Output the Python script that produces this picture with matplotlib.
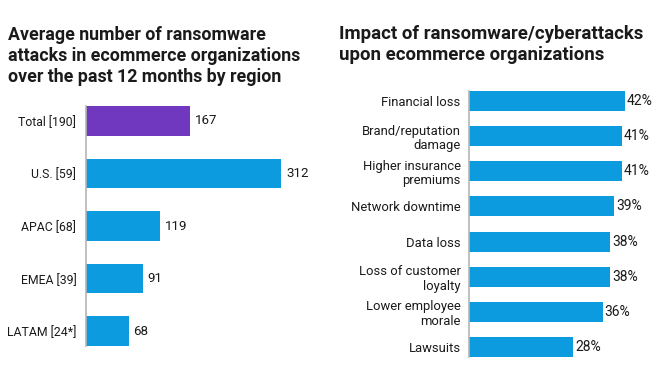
import matplotlib
matplotlib.use("Agg")
import matplotlib.pyplot as plt

plt.rcParams['font.family'] = ['Roboto', 'DejaVu Sans']

regions = ["Total [190]", "U.S. [59]", "APAC [68]", "EMEA [39]", "LATAM [24*]"]
attacks = [167, 312, 119, 91, 68]

impacts = ["Financial loss", "Brand/reputation\ndamage", "Higher insurance\npremiums",
           "Network downtime", "Data loss", "Loss of customer\nloyalty",
           "Lower employee\nmorale", "Lawsuits"]
impact_pct = [42, 41, 41, 39, 38, 38, 36, 28]

W, H = 670, 377
fig = plt.figure(figsize=(W / 100, H / 100), dpi=100)

PURPLE = "#7038BF"
BLUE = "#0D9BDF"
SPINE = "#b5b5b5"
TXT = "#1a1a1a"

def axes_px(x0, y0, x1, y1):
    return fig.add_axes([x0 / W, 1 - y1 / H, (x1 - x0) / W, (y1 - y0) / H])

# Left chart
hb = 0.57
axL = axes_px(86, 106, 86 + 340 * 0.625, 346)
colorsL = [PURPLE] + [BLUE] * (len(regions) - 1)
axL.barh(range(len(regions)), attacks, height=hb, color=colorsL, zorder=2)
axL.set_xlim(0, 340)
axL.set_ylim(len(regions) - 1 + hb / 2, -hb / 2)
axL.set_yticks(range(len(regions)))
axL.set_yticklabels(regions, fontsize=8.8, color=TXT)
axL.tick_params(axis='y', length=0, pad=7)
axL.set_xticks([])
for s in ["top", "right", "bottom"]:
    axL.spines[s].set_visible(False)
axL.spines["left"].set_color(SPINE)
axL.spines["left"].set_linewidth(1.2)
for i, v in enumerate(attacks):
    axL.text(v + 8, i, str(v), va="center", ha="left", fontsize=9.6, color=TXT)

fig.text(8 / W, 1 - 26 / H, "Average number of ransomware\nattacks in ecommerce organizations\nover the past 12 months by region",
         ha="left", va="top", fontsize=12.8, fontweight="bold", color=TXT, linespacing=1.22)

# Right chart
axR = axes_px(469, 91, 469 + 50 * 3.72, 357)
axR.barh(range(len(impacts)), impact_pct, height=hb, color=BLUE, zorder=2)
axR.set_xlim(0, 50)
axR.set_ylim(len(impacts) - 1 + hb / 2, -hb / 2)
axR.set_yticks(range(len(impacts)))
axR.set_yticklabels(impacts, fontsize=9.4, color=TXT, linespacing=1.15)
axR.tick_params(axis='y', length=0, pad=6)
axR.set_xticks([])
for s in ["top", "right", "bottom"]:
    axR.spines[s].set_visible(False)
axR.spines["left"].set_color(SPINE)
axR.spines["left"].set_linewidth(1.2)
for i, v in enumerate(impact_pct):
    axR.text(v + 0.5, i, f"{v}%", va="center", ha="left", fontsize=10, color=TXT)

fig.text(339 / W, 1 - 25 / H, "Impact of ransomware/cyberattacks\nupon ecommerce organizations",
         ha="left", va="top", fontsize=13.4, fontweight="bold", color=TXT, linespacing=1.18)

fig.savefig("out.png", dpi=100, facecolor="white")
